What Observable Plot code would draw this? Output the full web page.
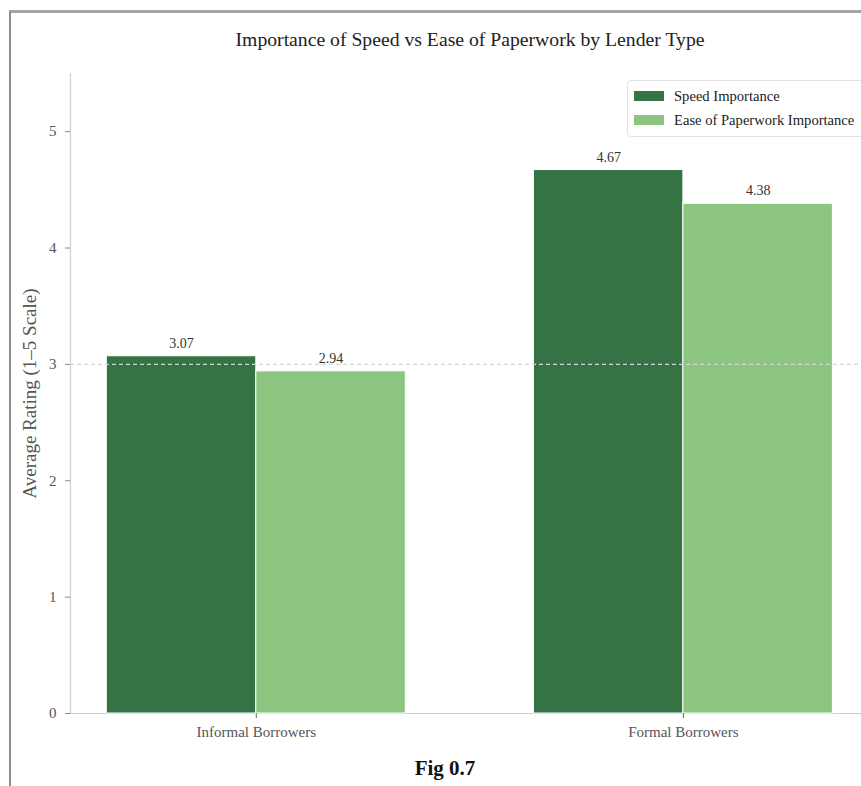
<!DOCTYPE html>
<html>
<head>
<meta charset="utf-8">
<script src="https://cdn.jsdelivr.net/npm/d3@7"></script>
<script src="https://cdn.jsdelivr.net/npm/@observablehq/plot@0.6"></script>
<style>
  body { margin: 0; width: 861px; height: 786px; overflow: hidden; background: #fff; position: relative;
         font-family: "Liberation Serif", "DejaVu Serif", serif; }
  #frame { position: absolute; left: 9px; top: 10px; width: 870px; height: 790px;
           border-top: 3px solid #a6a6a6; border-left: 2px solid #8c8c8c; }
  #chart { position: absolute; left: 0; top: 0; }
  #title { position: absolute; left: 0; width: 940px; top: 28px; text-align: center;
           font-family: "Liberation Serif", serif; font-size: 19.7px; color: #222; white-space: nowrap; }
  #legend { position: absolute; left: 627px; top: 80px; width: 250px; height: 55px;
            border: 1px solid #e2e2e2; border-radius: 4px; background: rgba(255,255,255,0.85); }
  .item { position: absolute; left: 6px; height: 16px; display: flex; align-items: center;
          font-family: "Liberation Serif", serif; font-size: 14.6px; color: #222; white-space: nowrap; }
  .swatch { width: 30px; height: 10px; margin-right: 10px; flex: none; }
  #caption { position: absolute; left: 0; width: 890px; top: 756px; text-align: center;
             font-family: "Liberation Serif", serif; font-size: 21px; font-weight: bold; color: #111; }
</style>
</head>
<body>
<div id="frame"></div>
<div id="chart"></div>
<div id="title"></div>
<div id="legend"></div>
<div id="caption"></div>
<script>
// Survey averages by lender type
const groups = ["Informal Borrowers", "Formal Borrowers"];
const speedImportance = [3.07, 4.67];
const paperworkImportance = [2.94, 4.38];
const seriesNames = ["Speed Importance", "Ease of Paperwork Importance"];
const seriesColors = ["#357345", "#8bc57f"];
const yTicks = [0, 1, 2, 3, 4, 5];
const referenceLevel = 3;

const titleText = "Importance of Speed vs Ease of Paperwork by Lender Type";
const yLabel = "Average Rating (1\u20135 Scale)";
const captionText = "Fig 0.7";

const barWidth = 0.35;
const rows = groups.flatMap((g, i) => [
  {i, s: 0, series: seriesNames[0], v: speedImportance[i]},
  {i, s: 1, series: seriesNames[1], v: paperworkImportance[i]}
]);
const left = d => d.i + (d.s - 1) * barWidth;

const chart = Plot.plot({
  width: 861,
  height: 750,
  marginLeft: 70,
  marginRight: 0,
  marginTop: 73,
  marginBottom: 37,
  style: {fontFamily: "'Liberation Serif', 'DejaVu Serif', serif", background: "transparent"},
  x: {type: "linear", domain: [-0.435, 1.417], axis: null},
  y: {domain: [0, 5.5], axis: null},
  color: {domain: seriesNames, range: seriesColors},
  marks: [
    Plot.ruleX([-0.435], {y1: 0, y2: 5.5, stroke: "#cfcfcf", strokeWidth: 1.2}),
    Plot.ruleY([0], {stroke: "#cfcfcf", strokeWidth: 1.2}),
    Plot.rectY(rows, {
      x1: left, x2: d => left(d) + barWidth, y1: 0, y2: "v",
      fill: "series", stroke: "white", strokeWidth: 1
    }),
    Plot.ruleY([referenceLevel], {stroke: "#d4d4d4", strokeDasharray: "4,3", strokeWidth: 1.2}),
    Plot.text(rows, {
      x: d => left(d) + barWidth / 2, y: "v", text: d => d.v.toFixed(2),
      dy: -13, fontSize: 14, fill: "#333"
    }),
    Plot.axisY({ticks: yTicks, tickFormat: d => String(d), tickSize: 5, tickPadding: 9, fontSize: 15,
                stroke: "#888", fill: "#555", label: null}),
    Plot.axisX({ticks: [0, 1], tickFormat: i => groups[i], tickSize: 5, tickPadding: 8,
                fontSize: 15, stroke: "#666", fill: "#555", label: null}),
    Plot.text([yLabel], {frameAnchor: "left", textAnchor: "middle", lineAnchor: "middle",
                         dx: -41, rotate: -90, fontSize: 19, fill: "#555"})
  ]
});
document.getElementById("chart").appendChild(chart);

document.getElementById("title").textContent = titleText;
document.getElementById("caption").textContent = captionText;

const legend = document.getElementById("legend");
seriesNames.forEach((name, k) => {
  const item = document.createElement("div");
  item.className = "item";
  item.style.top = (7 + k * 24) + "px";
  const sw = document.createElement("span");
  sw.className = "swatch";
  sw.style.background = seriesColors[k];
  const label = document.createElement("span");
  label.textContent = name;
  item.appendChild(sw);
  item.appendChild(label);
  legend.appendChild(item);
});
</script>
</body>
</html>
